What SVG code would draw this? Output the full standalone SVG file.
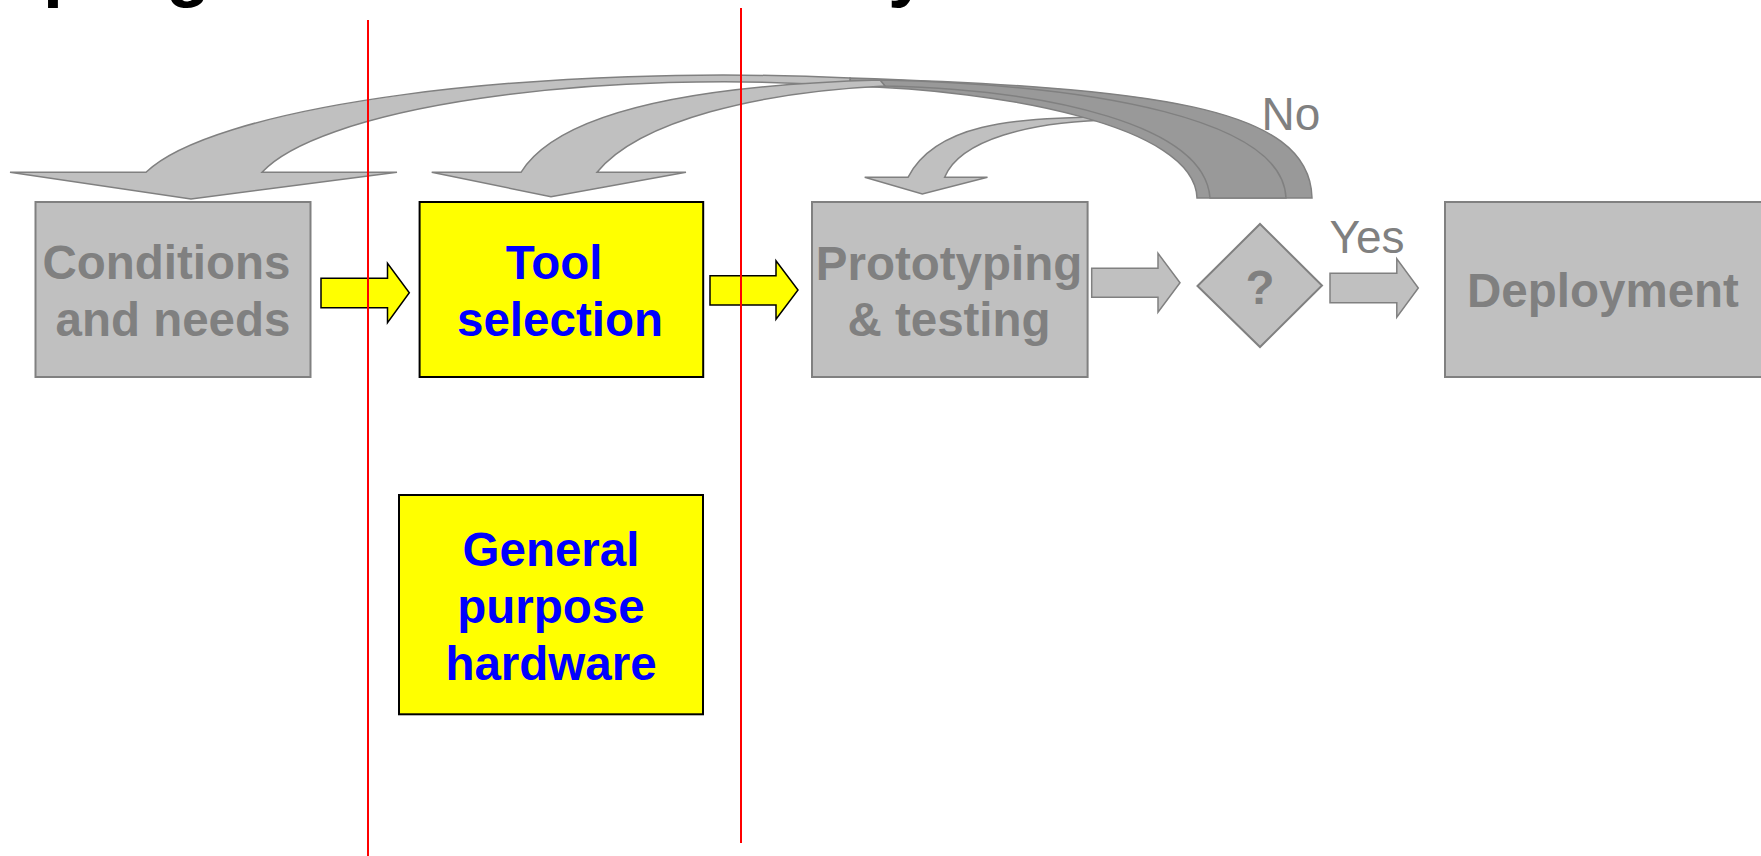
<svg xmlns="http://www.w3.org/2000/svg" width="1761" height="856" viewBox="0 0 1761 856">
<style>
.gbox{fill:#c0c0c0;stroke:#808080;stroke-width:2}
.ybox{fill:#ffff00;stroke:#000000;stroke-width:2}
.garrow{fill:#c0c0c0;stroke:#808080;stroke-width:1.5;stroke-linejoin:miter}
.back{fill:#999999;stroke:#808080;stroke-width:1.5}
.yarrow{fill:#ffff00;stroke:#000000;stroke-width:1.5}
.red{stroke:#ff0000;stroke-width:2}
.lbl{font-family:"Liberation Sans",Arial,sans-serif;font-weight:bold;font-size:47.5px;text-anchor:middle}
.gray{fill:#808080}
.blue{fill:#0000ff}
.yn{font-family:"Liberation Sans",Arial,sans-serif;font-size:46px;fill:#808080;text-anchor:middle}
.title{font-family:"Liberation Sans",Arial,sans-serif;font-weight:bold;font-size:72px;fill:#000000}
</style>
<rect width="1761" height="856" fill="#ffffff"/>
<text class="title" y="-7"><tspan x="43">p</tspan><tspan x="166">g</tspan><tspan x="888">y</tspan></text>
<g id="connectors">
  <!-- curved arrow to Prototyping -->
  <path class="garrow" d="M864.7,177.3 L908,177.3 C935,125 1010,117 1110,117 L1115,120 C1030,121 960,140 944.6,177.3 L987.5,177.3 L922.3,194 Z"/>
  <!-- curved arrow to Conditions: back then front -->
  <path class="back" d="M850,78 C1150,88 1310,105 1312,198 L1197,198 C1195,125 1000,90 850,86 Z"/>
  <path class="garrow" d="M10,172.3 L146,172.3 A590,123 0 0 1 850,78 L850,86 A473.5,116 0 0 0 262,172.3 L397,172.3 L191,199 Z"/>
  <!-- curved arrow to Tool selection -->
  <path class="back" d="M880,80 C1100,85 1283,120 1286,198 L1210,198 C1205,125 1050,90 885,86 Z"/>
  <path class="garrow" d="M431.7,172.3 L521,172.3 C560,110 700,85 880,80 L885,86 C760,92 640,120 597,172.3 L686,172.3 L551,196.7 Z"/>
  <!-- straight arrows -->
  <polygon class="yarrow" points="321,278.3 387.5,278.3 387.5,263.3 409.3,292.7 387.5,322.7 387.5,307.7 321,307.7"/>
  <polygon class="yarrow" points="710,275.7 776,275.7 776,260.7 798,290 776,319.3 776,305 710,305"/>
  <polygon class="garrow" points="1091.7,268.3 1158,268.3 1158,253.3 1180,282.7 1158,312.3 1158,297.3 1091.7,297.3"/>
  <polygon class="garrow" points="1330,273.3 1396.8,273.3 1396.8,258.7 1418.3,288 1396.8,317.3 1396.8,302.7 1330,302.7"/>
  <text class="yn" x="1291" y="130">No</text>
  <text class="yn" x="1367" y="252.7">Yes</text>
</g>
<g id="conditions">
  <rect class="gbox" x="35.5" y="202" width="275" height="175"/>
  <text class="lbl gray" x="166.5" y="279">Conditions</text>
  <text class="lbl gray" x="173" y="336">and needs</text>
</g>
<g id="tool-selection">
  <rect class="ybox" x="419.6" y="202" width="283.6" height="175"/>
  <text class="lbl blue" x="554" y="279">Tool</text>
  <text class="lbl blue" x="560" y="336">selection</text>
</g>
<g id="prototyping">
  <rect class="gbox" x="812" y="202" width="275.6" height="175"/>
  <text class="lbl gray" x="949" y="279.5">Prototyping</text>
  <text class="lbl gray" x="949" y="336">&amp; testing</text>
</g>
<g id="decision">
  <polygon class="gbox" points="1197.5,286 1260,224 1322,285.5 1260,347"/>
  <text class="lbl gray" x="1260" y="304">?</text>
</g>
<g id="deployment">
  <rect class="gbox" x="1445" y="202" width="330" height="175"/>
  <text class="lbl gray" x="1603" y="306.7">Deployment</text>
</g>
<g id="general-purpose-hardware">
  <rect class="ybox" x="399" y="495" width="304" height="219.3"/>
  <text class="lbl blue" x="551" y="565.7">General</text>
  <text class="lbl blue" x="551" y="623">purpose</text>
  <text class="lbl blue" x="551" y="680">hardware</text>
</g>
<g id="dividers">
  <line class="red" x1="368" y1="20" x2="368" y2="856"/>
  <line class="red" x1="741" y1="8" x2="741" y2="843"/>
</g>
</svg>
